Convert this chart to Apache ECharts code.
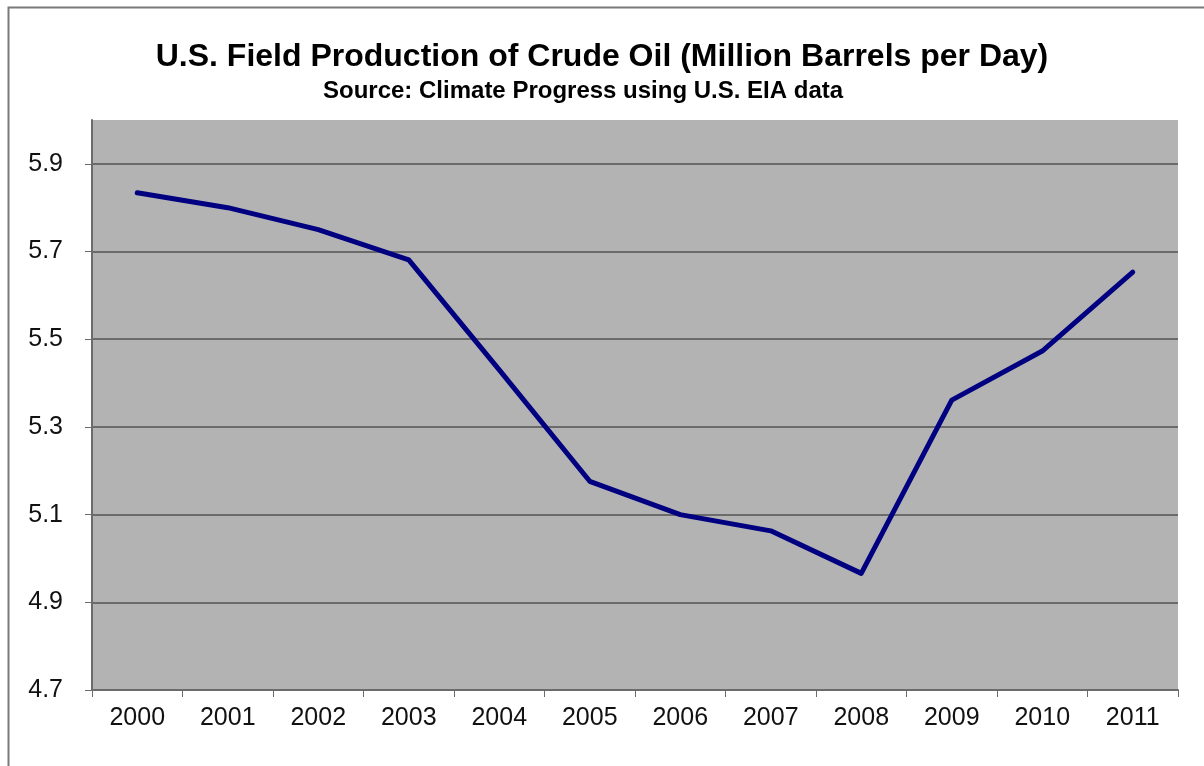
<!DOCTYPE html>
<html>
<head>
<meta charset="utf-8">
<title>U.S. Field Production of Crude Oil</title>
<script src="https://cdn.jsdelivr.net/npm/echarts@6/dist/echarts.min.js"></script>
<style>
    html, body { margin: 0; padding: 0; background: #ffffff; }
    #main { width: 1204px; height: 766px; }
</style>
</head>
<body>
<div id="main"></div>
<script>
// data
var years = ['2000', '2001', '2002', '2003', '2004', '2005', '2006', '2007', '2008', '2009', '2010', '2011'];
var production = [5.834, 5.80, 5.75, 5.681, 5.43, 5.176, 5.10, 5.063, 4.966, 5.361, 5.473, 5.653];
var yTicks = [4.7, 4.9, 5.1, 5.3, 5.5, 5.7, 5.9];

var axisGray = '#6b6b6b';

var chartDom = document.getElementById('main');
var myChart = echarts.init(chartDom);

var option = {
    backgroundColor: '#ffffff',
    animation: false,
    textStyle: { fontFamily: '"Liberation Sans", Arial, sans-serif' },
    title: [
        {
            text: 'U.S. Field Production of Crude Oil (Million Barrels per Day)',
            left: 'center',
            top: 36,
            textStyle: {
                fontSize: 32,
                fontWeight: 'bold',
                color: '#000000'
            }
        },
        {
            // subtitle sits a bit left of centre in the original
            text: 'Source: Climate Progress using U.S. EIA data',
            left: 318,
            top: 74,
            textStyle: {
                fontSize: 24,
                fontWeight: 'bold',
                color: '#000000'
            }
        }
    ],
    // outer chart frame, cut off at the right and bottom
    graphic: [
        {
            type: 'rect',
            z: -1,
            shape: { x: 8.5, y: 7.5, width: 1400, height: 900 },
            style: { fill: null, stroke: '#7a7a7a', lineWidth: 2 }
        }
    ],
    grid: {
        left: 92,
        right: 26,
        top: 120,
        bottom: 76,
        show: true,
        backgroundColor: '#b3b3b3',
        borderWidth: 0
    },
    xAxis: {
        type: 'category',
        data: years,
        boundaryGap: true,
        axisLine: { lineStyle: { color: axisGray, width: 2 } },
        axisTick: { show: true, length: 7, lineStyle: { color: axisGray, width: 1 } },
        axisLabel: {
            margin: 16,
            fontSize: 25,
            color: '#111111'
        },
        splitLine: { show: false }
    },
    yAxis: {
        type: 'value',
        min: 4.7,
        max: 6.0,
        axisLine: { show: true, lineStyle: { color: axisGray, width: 2 } },
        axisTick: {
            show: true,
            length: 7,
            customValues: yTicks,
            lineStyle: { color: axisGray, width: 1 }
        },
        axisLabel: {
            margin: 29,
            fontSize: 25,
            color: '#111111',
            customValues: yTicks,
            formatter: function (v) { return v.toFixed(1); }
        },
        splitLine: {
            show: true,
            lineStyle: { color: axisGray, width: 2 }
        }
    },
    series: [
        {
            name: 'Production',
            type: 'line',
            data: production,
            symbol: 'none',
            lineStyle: {
                color: '#000080',
                width: 5,
                cap: 'round',
                join: 'round'
            },
            itemStyle: { color: '#000080' }
        }
    ]
};

option && myChart.setOption(option);
</script>
</body>
</html>
